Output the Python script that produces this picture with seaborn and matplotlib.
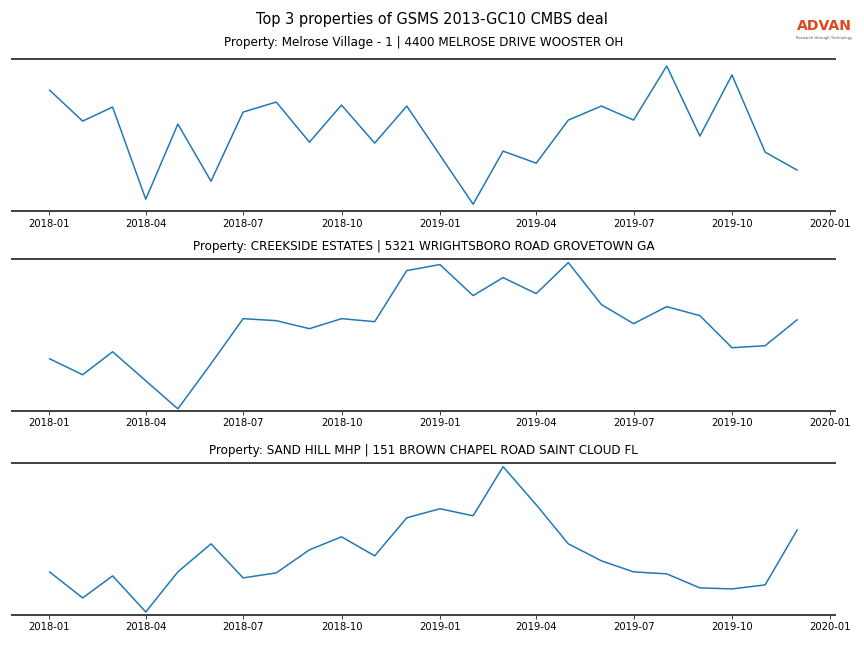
import matplotlib
matplotlib.use('Agg')
import matplotlib.pyplot as plt
import matplotlib.dates as mdates
import pandas as pd
import seaborn as sns

# monthly dates, Jan 2018 - Dec 2019
months = pd.date_range('2018-01-01', '2019-12-01', freq='MS')

# relative monthly activity (no y scale shown)
melrose = [121, 90, 104, 12, 87, 30, 99, 109, 69, 106, 68, 105,
           56, 7, 60, 48, 91, 105, 91, 145, 75, 136, 59, 41]
creekside = [52, 36, 59, 30, 2, 47, 92, 90, 82, 92, 89, 140,
             146, 115, 133, 117, 148, 106, 87, 104, 95, 63, 65, 91]
sand_hill = [43, 17, 39, 3, 43, 71, 37, 42, 65, 78, 59, 97,
             106, 99, 148, 110, 71, 54, 43, 41, 27, 26, 30, 85]

titles = ['Property: Melrose Village - 1 | 4400 MELROSE DRIVE WOOSTER OH',
          'Property: CREEKSIDE ESTATES | 5321 WRIGHTSBORO ROAD GROVETOWN GA',
          'Property: SAND HILL MHP | 151 BROWN CHAPEL ROAD SAINT CLOUD FL']
series = [melrose, creekside, sand_hill]

sns.set_style('white')
plt.rcParams['text.color'] = 'black'
plt.rcParams['xtick.color'] = 'black'

fig, axes = plt.subplots(nrows=3, ncols=1, figsize=(12, 9), dpi=72)

# axes placement (figure fractions) and title padding per panel
rects = [[0.014, 0.674, 0.952, 0.235],
         [0.014, 0.366, 0.952, 0.235],
         [0.014, 0.051, 0.952, 0.235]]
pads = [13, 9, 9]

for ax, vals, title, rect, pad in zip(axes, series, titles, rects, pads):
    ax.set_position(rect)
    df = pd.DataFrame({'date': months, 'value': vals})
    sns.lineplot(x='date', y='value', data=df, ax=ax, color='#1f77b4', linewidth=1.5)
    ax.set_ylim(0, 152)
    ax.set_title(title, fontsize=12, pad=pad)
    ax.set_xlabel('')
    ax.set_ylabel('')
    ax.set_yticks([])
    ax.set_xticks(pd.date_range('2018-01-01', '2020-01-01', freq='3MS'))
    ax.xaxis.set_major_formatter(mdates.DateFormatter('%Y-%m'))
    ax.tick_params(axis='x', labelsize=10, length=4, width=1, color='#444444', bottom=True)
    for side in ['left', 'right']:
        ax.spines[side].set_visible(False)
    for side in ['top', 'bottom']:
        ax.spines[side].set_color('#444444')
        ax.spines[side].set_linewidth(2)

fig.suptitle('Top 3 properties of GSMS 2013-GC10 CMBS deal', fontsize=14.5, y=0.982)

# logo
fig.text(0.954, 0.953, 'ADVAN', color='#e0461c', fontsize=14, fontweight='bold',
         ha='center', va='baseline')
fig.text(0.954, 0.941, 'Research through Technology', color='#555555', fontsize=3.8,
         ha='center', va='center')

fig.savefig('out.png', dpi=72)
